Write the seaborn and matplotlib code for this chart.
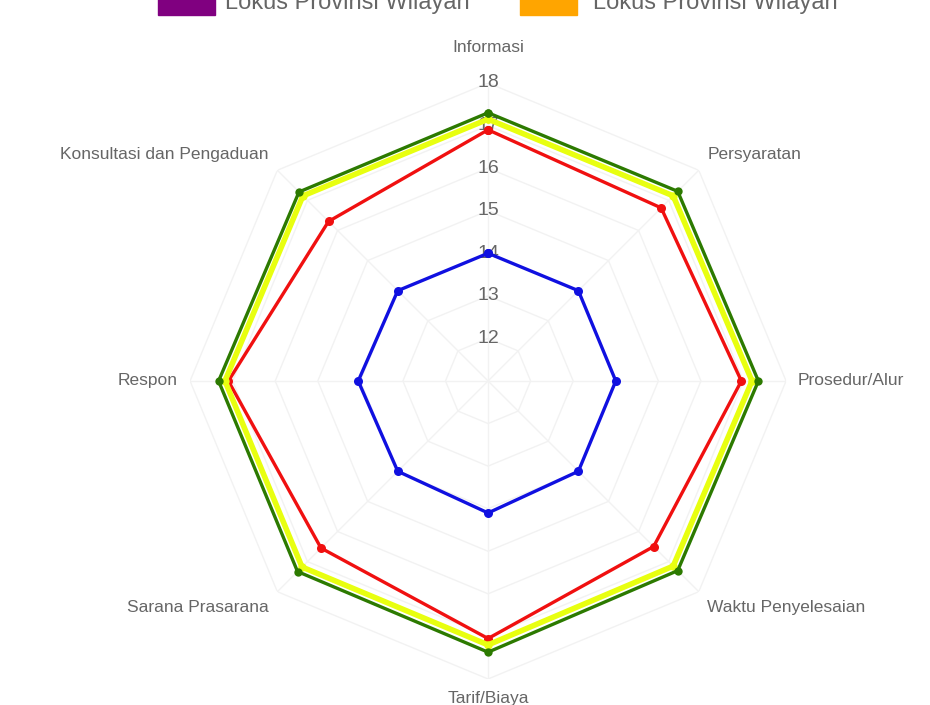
import numpy as np
import pandas as pd
import seaborn as sns
import matplotlib
matplotlib.use("Agg")
import matplotlib.pyplot as plt
from matplotlib.patches import Rectangle

# ---- data ----
categories = ["Informasi", "Persyaratan", "Prosedur/Alur", "Waktu Penyelesaian",
              "Tarif/Biaya", "Sarana Prasarana", "Respon", "Konsultasi dan Pengaduan"]
blue_vals = [14.0, 14.0, 14.0, 14.0, 14.1, 14.0, 14.05, 14.0]
red_vals = [16.9, 16.75, 16.95, 16.5, 17.05, 16.55, 17.1, 16.3]
yellow_vals = [17.15, 17.15, 17.2, 17.15, 17.2, 17.18, 17.18, 17.15]
green_vals = [17.3, 17.3, 17.35, 17.3, 17.37, 17.33, 17.33, 17.28]
tick_values = [12, 13, 14, 15, 16, 17, 18]
legend_labels = ["Lokus Provinsi Wilayah", "Lokus Provinsi Wilayah"]
legend_colors = ["#800080", "#ffa500"]

sns.set_theme(style="white")
plt.rcParams['font.family'] = ['Liberation Sans', 'DejaVu Sans']

fig = plt.figure(figsize=(9.3, 7.05), dpi=100)
ax = fig.add_axes([0.2043, 0.0369, 0.641, 0.8454], projection="polar")
ax.set_theta_zero_location("N")
ax.set_theta_direction(-1)
ax.set_ylim(11, 18)
ax.grid(False)
ax.spines["polar"].set_visible(False)
ax.set_xticks([])
ax.set_yticks([])
ax.patch.set_alpha(0)

n = len(categories)
angles = np.linspace(0, 2 * np.pi, n, endpoint=False)
closed = np.append(angles, 2 * np.pi)

# polygon grid (very faint)
for v in tick_values:
    ax.plot(closed, [v] * (n + 1), color="#f2f2f2", lw=1, zorder=0)
for a in angles:
    ax.plot([a, a], [11, 18], color="#f2f2f2", lw=1, zorder=0)

# tick labels
for v in tick_values:
    ax.text(0, v, str(v), ha="center", va="center", fontsize=14, color="#666666", zorder=1)

series = [
    ("blue", blue_vals, "#1010e0", 2.4, 6.5),
    ("red", red_vals, "#f01010", 2.4, 6.5),
    ("yellow", yellow_vals, "#e8ff10", 4.0, 6.0),
    ("green", green_vals, "#2c7a00", 2.4, 6.0),
]
for name, vals, col, lw, ms in series:
    df = pd.DataFrame({"theta": closed, "value": list(vals) + [vals[0]]})
    sns.lineplot(data=df, x="theta", y="value", sort=False, estimator=None,
                 color=col, lw=lw, marker="o", markersize=ms, markeredgewidth=0,
                 ax=ax, zorder=3)
ax.set_xlabel("")
ax.set_ylabel("")

# point labels
label_r = 11 + 310 / 42.57
aligns = [("center", "bottom"), ("left", "bottom"), ("left", "center"), ("left", "top"),
          ("center", "top"), ("right", "top"), ("right", "center"), ("right", "bottom")]
for i, (cat, (ha, va)) in enumerate(zip(categories, aligns)):
    r = label_r
    if i == 0:
        r = 11 + 326 / 42.57
    ax.text(angles[i], r, cat, ha=ha, va=va, fontsize=12.5, color="#666666",
            clip_on=False)

# legend (clipped at top, as in the reference)
W, H = 930, 705
box_x = [158, 520]
text_x = [225, 593]
for bx, tx, lab, col in zip(box_x, text_x, legend_labels, legend_colors):
    fig.patches.append(Rectangle((bx / W, 1 - 15 / H), 57 / W, 28 / H,
                                 transform=fig.transFigure, color=col))
    fig.text(tx / W, 1 - 3 / H, lab, ha="left", va="center", fontsize=17,
             color="#666666")

fig.savefig("out.png", dpi=100)
